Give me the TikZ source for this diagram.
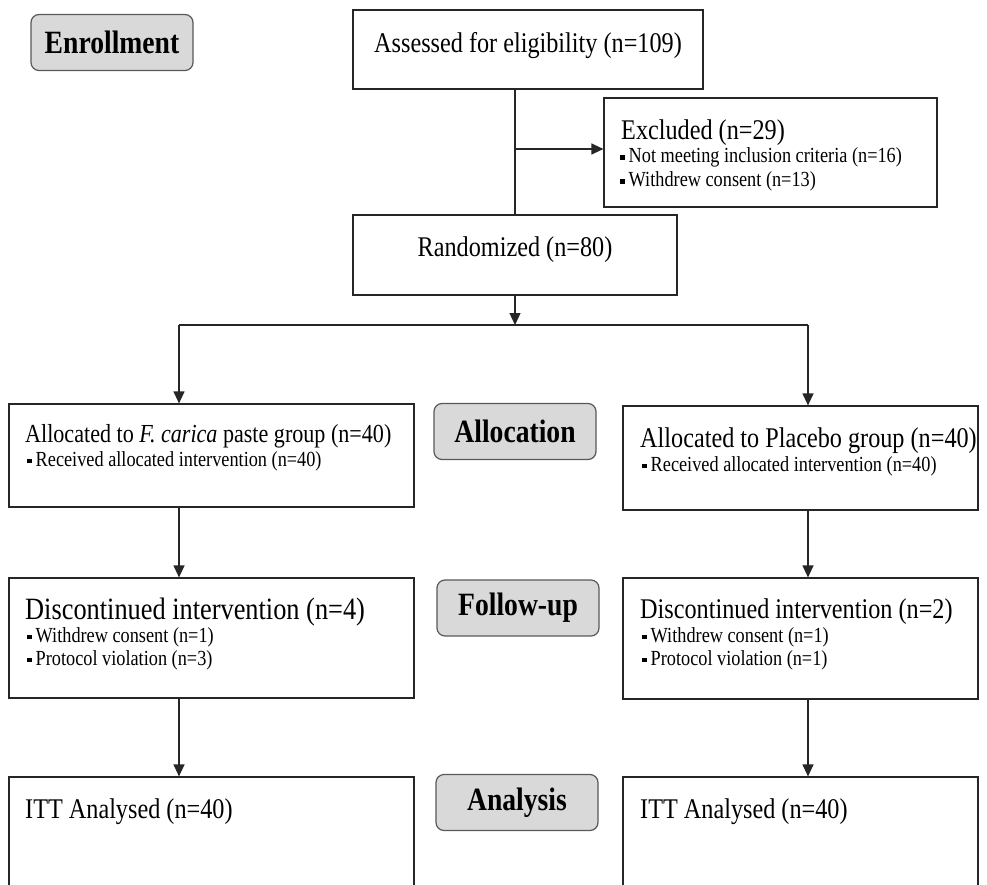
\documentclass[tikz,border=0pt]{standalone}
\usepackage{fontspec}
\setmainfont{Liberation Serif}[FakeStretch=0.85]
\usetikzlibrary{arrows.meta}
\newcommand\sqb{\rule[3pt]{4.5pt}{4.5pt}\hspace{4pt}}
\begin{document}
\begin{tikzpicture}[x=1pt,y=-1pt,
  box/.style={draw=black!85, line width=1.2pt, inner sep=0pt},
  lbl/.style={draw=black!65, fill=black!15, rounded corners=8pt, line width=1.2pt,
    font=\bfseries\fontsize{32.5}{34}\selectfont, minimum width=162pt, minimum height=56pt, inner sep=0pt},
  mt/.style={font=\fontsize{28.5}{30}\selectfont, inner sep=0pt, anchor=base west},
  st/.style={font=\fontsize{21.5}{23}\selectfont, inner sep=0pt, anchor=base west},
  conn/.style={line width=1.2pt, draw=black!85},
  arr/.style={conn, -{Triangle[length=12pt,width=11pt]}}]
\clip (0,0) rectangle (987,885);
\fill[white] (0,0) rectangle (987,885);
% boxes
\node[box, minimum width=350pt, minimum height=79pt] (assess) at (528,49.5) {};
\node[box, minimum width=333pt, minimum height=109pt] (excl) at (770.5,152.5) {};
\node[box, minimum width=324pt, minimum height=80pt] (rand) at (515,255) {};
\node[box, minimum width=405pt, minimum height=103pt] (allocL) at (211.5,455.5) {};
\node[box, minimum width=355pt, minimum height=104pt] (allocR) at (800.5,458) {};
\node[box, minimum width=405pt, minimum height=120pt] (fuL) at (211.5,638) {};
\node[box, minimum width=355pt, minimum height=121pt] (fuR) at (800.5,638.5) {};
\node[box, minimum width=405pt, minimum height=120pt] (anL) at (211.5,837) {};
\node[box, minimum width=355pt, minimum height=120pt] (anR) at (800.5,837) {};
% stage labels
\node[lbl] (lEnroll) at (112,42.5) {Enrollment};
\node[lbl] (lAlloc) at (515,431.5) {Allocation};
\node[lbl] (lFollow) at (518,608) {Follow-up};
\node[lbl] (lAnal) at (517,802.5) {Analysis};
% texts
\node[mt, anchor=base] (tAssess) at (528,53) {Assessed for eligibility (n=109)};
\node[mt, anchor=base] (tRand) at (515,257) {Randomized (n=80)};
\node[mt] (tExcl) at (621,140) {Excluded (n=29)};
\node[st] (tExcl1) at (620,163) {\sqb Not meeting inclusion criteria (n=16)};
\node[st] (tExcl2) at (620,187) {\sqb Withdrew consent (n=13)};
\node[mt, font=\fontsize{26}{28}\selectfont] (tAllocL) at (25,442) {Allocated to \textit{F. carica} paste group (n=40)};
\node[st] (tAllocL1) at (27,466) {\sqb Received allocated intervention (n=40)};
\node[mt] (tAllocR) at (640,447) {Allocated to Placebo group (n=40)};
\node[st] (tAllocR1) at (642,471) {\sqb Received allocated intervention (n=40)};
\node[mt, font=\fontsize{31}{33}\selectfont] (tFuL) at (25,619) {Discontinued intervention (n=4)};
\node[st] (tFuL1) at (27,642) {\sqb Withdrew consent (n=1)};
\node[st] (tFuL2) at (27,665) {\sqb Protocol violation (n=3)};
\node[mt] (tFuR) at (640,618) {Discontinued intervention (n=2)};
\node[st] (tFuR1) at (642,642) {\sqb Withdrew consent (n=1)};
\node[st] (tFuR2) at (642,665) {\sqb Protocol violation (n=1)};
\node[mt] (tAnL) at (25,818) {ITT Analysed (n=40)};
\node[mt] (tAnR) at (640,818) {ITT Analysed (n=40)};
% connectors
\coordinate (ex) at (515,149);
\coordinate (split) at (515,325);
\coordinate (jl) at (179,325);
\coordinate (jr) at (808,325);
\draw[conn] (rand.north |- assess.south) -- (rand.north);
\draw[arr] (ex) -- (ex -| excl.west);
\draw[arr] (rand.south) -- (split);
\draw[conn] (jl) -- (jr);
\draw[arr] (jl) -- (jl |- allocL.north);
\draw[arr] (jr) -- (jr |- allocR.north);
\draw[arr] (jl |- allocL.south) -- (jl |- fuL.north);
\draw[arr] (jr |- allocR.south) -- (jr |- fuR.north);
\draw[arr] (jl |- fuL.south) -- (jl |- anL.north);
\draw[arr] (jr |- fuR.south) -- (jr |- anR.north);
\end{tikzpicture}
\end{document}
